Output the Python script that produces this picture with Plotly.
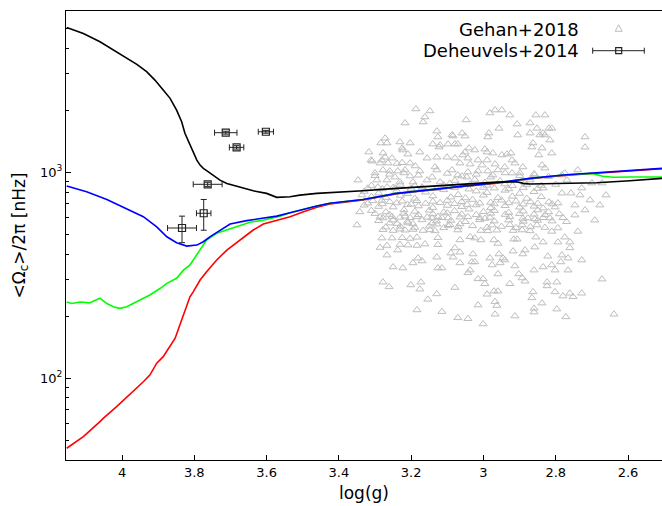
import plotly.graph_objects as go

# ---------------- model curves (log g, <Omega_c>/2pi in nHz) ----------------
black_logg = [4.153, 4.107, 4.061, 4.015, 3.987, 3.959, 3.932, 3.909, 3.886, 3.867, 3.849, 3.835,
              3.826, 3.812, 3.803, 3.793, 3.784, 3.775, 3.761, 3.747, 3.729, 3.710,
              3.674, 3.637, 3.600, 3.572, 3.535, 3.508, 3.461, 3.425, 3.333, 3.240, 3.148, 3.056,
              2.963, 2.908, 2.890, 2.871, 2.779, 2.687, 2.595, 2.506]
black_omega = [5040, 4710, 4295, 3837, 3565, 3333, 3070, 2797, 2500, 2280, 2000, 1755,
               1542, 1352, 1233, 1143, 1081, 1042, 1003, 967, 914, 881,
               849, 811, 788, 754, 759, 773, 788, 794, 811, 833, 855, 871,
               894, 897, 881, 875, 881, 887, 908, 932]

blue_logg = [4.153, 4.098, 4.042, 3.987, 3.941, 3.904, 3.876, 3.849, 3.821, 3.793, 3.775, 3.757,
             3.729, 3.701, 3.655, 3.609, 3.572, 3.535, 3.498, 3.461, 3.425, 3.333, 3.240, 3.148,
             3.056, 2.963, 2.871, 2.779, 2.687, 2.595, 2.506]
blue_omega = [855, 802, 736, 666, 607, 542, 485, 454, 437, 442, 459, 485,
              523, 559, 581, 596, 611, 634, 659, 684, 705, 736, 788, 824,
              855, 887, 932, 967, 993, 1015, 1042]

green_logg = [4.153, 4.139, 4.116, 4.089, 4.061, 4.042, 4.024, 4.006, 3.987, 3.950, 3.923, 3.895,
              3.876, 3.849, 3.830, 3.812, 3.793, 3.784, 3.766, 3.738, 3.710, 3.683, 3.646, 3.609,
              3.563, 3.535, 3.498, 3.461, 3.425, 3.333, 3.240, 3.148, 3.056, 2.963, 2.871, 2.779,
              2.700, 2.670, 2.640, 2.595, 2.506]
green_omega = [234, 230, 234, 232, 244, 230, 222, 218, 222, 239, 253, 272,
               288, 305, 334, 354, 395, 418, 468, 504, 523, 542, 571, 584,
               611, 634, 659, 684, 705, 736, 788, 824, 855, 887, 932, 967,
               985, 955, 944, 946, 946]

red_logg = [4.153, 4.107, 4.061, 4.052, 4.015, 3.969, 3.941, 3.923, 3.904, 3.886, 3.867, 3.853,
            3.840, 3.826, 3.812, 3.803, 3.784, 3.766, 3.738, 3.710, 3.674, 3.637, 3.609,
            3.572, 3.535, 3.498, 3.461, 3.425, 3.333, 3.240, 3.148, 3.056, 2.963, 2.871, 2.779,
            2.687, 2.595, 2.506]
red_omega = [45.6, 51.9, 61.4, 63.7, 72.6, 85.9, 95.9, 103.4, 118, 127, 142, 156,
             181, 214, 248, 262, 299, 328, 374, 418, 468, 523, 559,
             581, 607, 641, 674, 700, 733, 785, 821, 852, 884, 928, 963,
             989, 1011, 1038]

# ---------------- Deheuvels+2014 ----------------
deh_logg = [3.713, 3.602, 3.683, 3.763, 3.774, 3.834]
deh_omega = [1553, 1569, 1318, 872, 631, 535]
deh_logg_err = [0.031, 0.021, 0.020, 0.040, 0.020, 0.040]
deh_omega_err_up = [25, 25, 25, 20, 105, 76]
deh_omega_err_down = [25, 25, 25, 20, 109, 81]

# ---------------- Gehan+2018 (log g, Omega) ----------------
gehan_points = [
    (3.187, 2024), (3.148, 1980), (3.162, 1850), (3.167, 1750), (3.217, 1730), (3.129, 1580),
    (3.048, 1790), (2.982, 1935), (2.968, 2000), (2.949, 2000), (2.927, 1890), (2.855, 1890),
    (2.830, 1890), (2.907, 1710), (2.871, 1730), (2.957, 1630), (2.811, 1630), (2.835, 1545),
    (2.830, 1513), (2.816, 1430), (2.719, 1480), (2.719, 1320), (2.985, 1545), (2.988, 1480),
    (3.059, 1545), (3.087, 1513), (3.051, 1495), (3.084, 1495), (2.905, 1513), (2.871, 1545),
    (2.863, 1383), (3.126, 1480), (3.272, 1460), (3.284, 1383), (3.267, 1383), (3.231, 1400),
    (3.203, 1383), (3.140, 1367), (3.123, 1322), (3.120, 1352), (3.098, 1367), (3.079, 1367),
    (3.071, 1367), (3.040, 1307), (3.024, 1279), (2.996, 1292), (2.990, 1250), (2.974, 1236),
    (2.866, 1322), (2.852, 1630), (2.819, 1630), (2.844, 1513), (2.847, 1210), (2.811, 1236),
    (2.838, 1307), (3.225, 1307), (3.223, 1279), (3.317, 1250), (3.278, 1236), (3.272, 1180),
    (3.209, 1222), (3.176, 1250), (3.308, 1130), (3.311, 1143), (3.281, 1143), (3.253, 1168),
    (3.156, 1168), (3.129, 1180), (2.949, 1210), (2.935, 1222), (2.924, 1236), (3.057, 1210),
    (3.051, 1250), (3.079, 1168), (3.101, 1180), (3.043, 1168), (3.015, 1143), (2.990, 1143),
    (2.921, 1143), (2.838, 1081), (2.830, 1045),
    (3.286, 1105), (3.264, 1105), (3.239, 1100), (3.225, 1110), (3.203, 1105), (3.189, 1070),
    (3.134, 1058), (3.065, 1105), (3.037, 1093), (3.004, 1081), (2.968, 1093), (2.913, 1105),
    (2.891, 1058), (3.278, 1023), (3.259, 1011), (3.237, 1011), (3.217, 1023), (3.176, 1011),
    (3.129, 1023), (3.087, 1023), (3.043, 1000), (3.015, 1011), (2.988, 1011), (2.960, 1023),
    (2.941, 1058), (3.300, 989), (3.245, 945), (3.203, 956), (3.142, 945), (3.071, 967),
    (3.046, 945), (2.974, 967), (2.921, 989), (2.899, 989), (2.858, 967), (2.739, 1023),
    (2.775, 989), (2.783, 967), (2.769, 914), (3.295, 914), (3.267, 914), (3.156, 914),
    (3.231, 894), (3.195, 894), (3.120, 894), (3.292, 845), (3.267, 845), (3.245, 836),
    (3.170, 836), (2.728, 836), (2.700, 884), (2.672, 884), (2.835, 836), (2.783, 790),
    (2.758, 790), (2.819, 715), (2.794, 707), (2.835, 668), (2.802, 676),
    (3.093, 880), (3.037, 870), (2.996, 890), (2.941, 875), (2.885, 885), (3.079, 910),
    (3.024, 920), (2.954, 905), (2.871, 915),
    (3.347, 914), (3.336, 773), (3.342, 640), (3.350, 553),
    (2.705, 731), (2.678, 691), (2.719, 654), (2.747, 618), (2.692, 584), (2.733, 773),
    (2.661, 773), (2.747, 691),
    (3.33, 805), (3.29, 790), (3.24, 812), (3.21, 785), (3.16, 798), (3.11, 820), (3.07, 776),
    (3.02, 808), (2.99, 795), (2.94, 815), (2.90, 787), (2.86, 802),
    (3.31, 760), (3.27, 752), (3.23, 770), (3.19, 745), (3.14, 765), (3.09, 755), (3.05, 748),
    (3.00, 772), (2.96, 750), (2.92, 762), (2.88, 744), (2.84, 758),
    (3.306, 725), (3.281, 728), (3.259, 716), (3.225, 722), (3.184, 726), (3.140, 720),
    (3.10, 728), (3.06, 718), (3.03, 735), (2.98, 712), (2.95, 730), (2.91, 722), (2.87, 716),
    (3.33, 690), (3.29, 680), (3.25, 676), (3.21, 695), (3.18, 684), (3.14, 672), (3.10, 688),
    (3.06, 679), (3.02, 692), (2.98, 670), (2.94, 686), (2.90, 675), (2.86, 682),
    (3.31, 650), (3.27, 640), (3.22, 655), (3.19, 644), (3.15, 652), (3.11, 638), (3.08, 648),
    (3.04, 660), (3.00, 642), (2.97, 650), (2.93, 636), (2.89, 646), (2.85, 654), (2.82, 640),
    (3.286, 605), (3.278, 598), (3.253, 608), (3.231, 602), (3.217, 610), (3.203, 600),
    (3.184, 606), (3.156, 603), (3.142, 598), (3.126, 608), (3.115, 600), (3.098, 598),
    (3.065, 604), (3.043, 606), (3.010, 600), (2.996, 595), (2.982, 602), (2.927, 606),
    (2.891, 595), (2.877, 598), (2.858, 592), (2.835, 600), (2.816, 598), (2.780, 600),
    (3.259, 565), (3.239, 562), (3.209, 566), (3.195, 560), (3.142, 565), (3.129, 558),
    (3.093, 555), (3.098, 550), (3.065, 560), (2.976, 553), (2.927, 555), (2.893, 553),
    (2.852, 553),
    (3.278, 525), (3.250, 520), (3.231, 528), (3.217, 522), (3.195, 526), (3.167, 520),
    (3.148, 524), (3.134, 518), (3.071, 523), (3.007, 520), (2.988, 518), (2.963, 522),
    (2.918, 520), (2.893, 523), (2.871, 518), (2.811, 515), (2.794, 535), (2.739, 515),
    (3.281, 478), (3.253, 478), (3.225, 480), (3.203, 476), (3.184, 482), (3.126, 480),
    (3.037, 485), (3.024, 478), (3.007, 468), (3.065, 468), (2.971, 468), (2.960, 450),
    (2.916, 472), (2.907, 472), (2.855, 483), (2.775, 483), (2.835, 457), (2.794, 457),
    (2.761, 457),
    (3.231, 445), (3.209, 442), (3.162, 447), (3.184, 440), (3.126, 444), (3.286, 430),
    (3.267, 440), (3.237, 418), (3.079, 428), (3.065, 408), (3.090, 404), (3.084, 386),
    (3.029, 400), (2.918, 413), (2.891, 400), (2.885, 418), (2.858, 432), (2.761, 428),
    (3.267, 395), (3.129, 386), (3.181, 382), (3.170, 370), (2.982, 382), (2.946, 382),
    (2.941, 374), (2.957, 400), (3.032, 366), (3.024, 366), (2.822, 390), (2.783, 395),
    (2.766, 382), (2.728, 374),
    (3.195, 362), (3.250, 346), (3.223, 342), (3.126, 342), (3.115, 342), (3.065, 362),
    (2.976, 354), (2.954, 362), (2.913, 350), (2.860, 334), (3.043, 324), (3.037, 334),
    (2.835, 346), (2.811, 354), (2.802, 334), (2.786, 366), (2.766, 334),
    (2.960, 320), (2.902, 320), (2.893, 306), (2.885, 295), (3.015, 303), (3.001, 303),
    (2.996, 287), (2.927, 287), (3.079, 275), (3.278, 292), (3.261, 277), (3.201, 283),
    (3.173, 292), (3.176, 270), (2.672, 302), (2.824, 292), (2.797, 292), (2.824, 280),
    (2.802, 262), (2.780, 250), (2.761, 258), (2.752, 248), (2.728, 258),
    (2.990, 255), (2.971, 264), (2.960, 264), (2.863, 262), (2.866, 245), (3.129, 256),
    (3.154, 241), (2.968, 235), (2.963, 225), (3.015, 226), (2.860, 218), (2.860, 209),
    (3.184, 214), (3.115, 210), (2.968, 204), (2.913, 200), (3.071, 196), (3.043, 194),
    (3.001, 183), (2.838, 231), (2.797, 216), (2.772, 198), (2.639, 204),
    (3.32, 835), (3.28, 828), (3.25, 840), (3.20, 832), (3.17, 845), (3.13, 830), (3.08, 838),
    (3.04, 826), (3.00, 842), (2.97, 835), (2.93, 828), (2.89, 840), (2.85, 832),
    (3.32, 705), (3.28, 700), (3.24, 708), (3.20, 698), (3.16, 704), (3.12, 710), (3.08, 702),
    (3.045, 696), (3.01, 706), (2.97, 700), (2.93, 708), (2.89, 698), (2.85, 704), (2.81, 700),
    (3.30, 628), (3.26, 622), (3.22, 630), (3.18, 620), (3.14, 626), (3.10, 632), (3.06, 624),
    (3.02, 620), (2.98, 630), (2.94, 622), (2.90, 628), (2.86, 624), (2.83, 620), (2.79, 626),
    (3.29, 580), (3.25, 584), (3.21, 576), (3.17, 586), (3.13, 578), (3.09, 582), (3.05, 574),
    (3.01, 586), (2.97, 578), (2.93, 584), (2.89, 576), (2.85, 582), (2.81, 578), (2.77, 574),
    (3.27, 540), (3.23, 545), (3.19, 538), (3.15, 546), (3.11, 536), (3.07, 542), (3.03, 548),
    (2.99, 538), (2.95, 544), (2.91, 536), (2.87, 542), (2.83, 538),
    (3.30, 960), (3.26, 975), (3.22, 990), (3.18, 965), (3.10, 985), (3.06, 955), (3.02, 975),
    (2.98, 945), (2.94, 990), (2.90, 960), (2.86, 980), (2.82, 950),
    (3.31, 860), (3.23, 870), (3.19, 858), (3.11, 865), (3.07, 855), (2.99, 862), (2.92, 858),
    (2.88, 866), (2.84, 860), (2.80, 870),
]
gehan_logg = [p[0] for p in gehan_points]
gehan_omega = [p[1] for p in gehan_points]

# ---------------- axes ticks ----------------
x_tickvals = [4.0, 3.8, 3.6, 3.4, 3.2, 3.0, 2.8, 2.6]
x_ticktext = ["4", "3.8", "3.6", "3.4", "3.2", "3", "2.8", "2.6"]
y_tickvals = [100, 1000]
y_ticktext = ["10<sup>2</sup>", "10<sup>3</sup>"]
y_minor = [50, 60, 70, 80, 90, 200, 300, 400, 500, 600, 700, 800, 900,
           2000, 3000, 4000, 5000, 6000]

FONT = "DejaVu Sans"
fig = go.Figure()

fig.add_trace(go.Scatter(
    x=gehan_logg, y=gehan_omega, mode="markers", name="Gehan+2018",
    marker=dict(symbol="triangle-up-open", size=7, color="#bdbdbd", line=dict(width=1, color="#bdbdbd")),
    showlegend=False))

for xs, ys, col in [(red_logg, red_omega, "#ff0000"),
                    (green_logg, green_omega, "#00ff00"),
                    (blue_logg, blue_omega, "#0000ff"),
                    (black_logg, black_omega, "#000000")]:
    fig.add_trace(go.Scatter(x=xs, y=ys, mode="lines", line=dict(color=col, width=1.6),
                             showlegend=False))

fig.add_trace(go.Scatter(
    x=deh_logg, y=deh_omega, mode="markers", name="Deheuvels+2014",
    marker=dict(symbol="square-open", size=7, color="#222222", line=dict(width=1.2)),
    error_x=dict(type="data", array=deh_logg_err, color="#222222", thickness=1, width=3),
    error_y=dict(type="data", symmetric=False, array=deh_omega_err_up,
                 arrayminus=deh_omega_err_down, color="#222222", thickness=1, width=3),
    showlegend=False))

# ---------------- legend (drawn manually, symbols to the right of the text) ----------------
L, R, T, B = 66, 662, 11, 460
def px(x): return (x - L) / (R - L)
def py(y): return (B - y) / (B - T)

annotations = [
    dict(text="Gehan+2018", x=px(581), y=py(29.5), xref="paper", yref="paper",
         xanchor="right", yanchor="middle", showarrow=False, font=dict(family=FONT, size=18, color="#000")),
    dict(text="Deheuvels+2014", x=px(581), y=py(50.7), xref="paper", yref="paper",
         xanchor="right", yanchor="middle", showarrow=False, font=dict(family=FONT, size=18, color="#000")),
]
shapes = [
    dict(type="path", xref="paper", yref="paper", xsizemode="pixel", ysizemode="pixel",
         xanchor=px(618.7), yanchor=py(28.3), path="M -3.5,-3 L 3.5,-3 L 0,3.5 Z",
         line=dict(color="#bdbdbd", width=1)),
    dict(type="line", xref="paper", yref="paper", x0=px(592.7), x1=px(644.3), y0=py(50.7), y1=py(50.7),
         line=dict(color="#222222", width=1)),
    dict(type="line", xref="paper", yref="paper", xsizemode="pixel", ysizemode="pixel",
         xanchor=px(592.7), yanchor=py(50.7), x0=0, x1=0, y0=-3, y1=3, line=dict(color="#222222", width=1)),
    dict(type="line", xref="paper", yref="paper", xsizemode="pixel", ysizemode="pixel",
         xanchor=px(644.3), yanchor=py(50.7), x0=0, x1=0, y0=-3, y1=3, line=dict(color="#222222", width=1)),
    dict(type="rect", xref="paper", yref="paper", xsizemode="pixel", ysizemode="pixel",
         xanchor=px(618.7), yanchor=py(50.7), x0=-3, x1=3, y0=-3, y1=3,
         line=dict(color="#222222", width=1.2)),
]

fig.update_layout(
    width=662, height=506,
    margin=dict(l=L, r=0, t=T, b=506 - B, pad=0),
    paper_bgcolor="white", plot_bgcolor="white",
    font=dict(family=FONT, color="#000"),
    showlegend=False,
    annotations=annotations, shapes=shapes,
    xaxis=dict(range=[4.155, 2.506], tickvals=x_tickvals, ticktext=x_ticktext,
               ticks="inside", ticklen=5, tickwidth=1, tickcolor="#000",
               showline=True, linecolor="#000", linewidth=1.2, mirror=True,
               showgrid=False, zeroline=False, tickfont=dict(size=13, family=FONT),
               title=dict(text="log(g)", font=dict(size=17, family=FONT), standoff=8)),
    yaxis=dict(type="log", range=[1.602, 3.782], tickvals=y_tickvals, ticktext=y_ticktext,
               ticks="inside", ticklen=5, tickwidth=1, tickcolor="#000",
               minor=dict(tickvals=y_minor, ticks="inside", ticklen=3, tickwidth=1, tickcolor="#000",
                          showgrid=False),
               showline=True, linecolor="#000", linewidth=1.2,
               showgrid=False, zeroline=False, tickfont=dict(size=13, family=FONT),
               title=dict(text="&lt;Ω<sub>c</sub>&gt;/2π [nHz]", font=dict(size=17, family=FONT), standoff=10)),
)

fig.write_html("out.html")
